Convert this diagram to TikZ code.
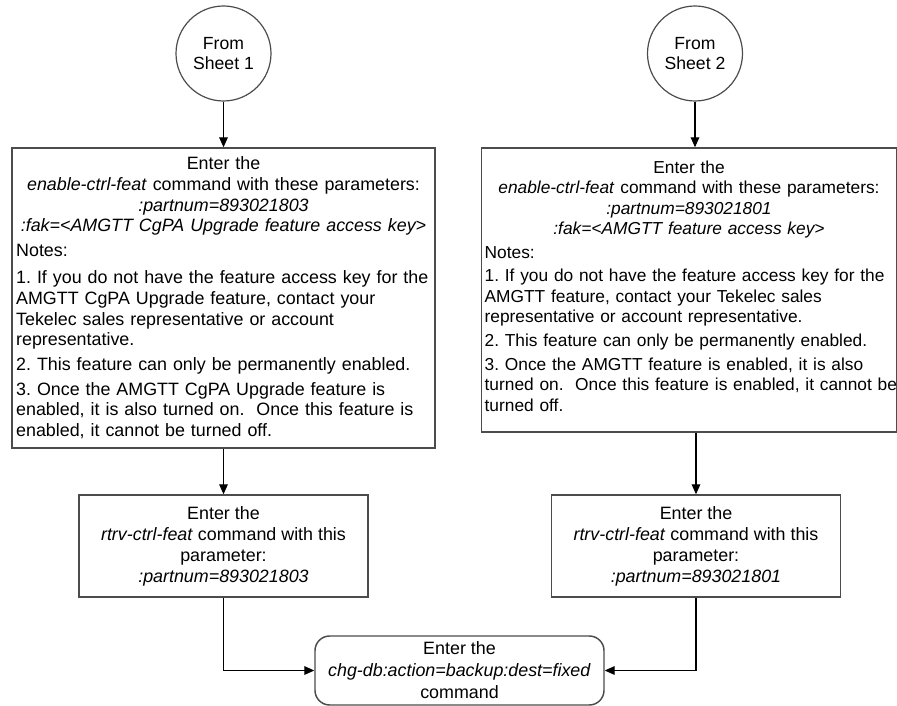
\documentclass[tikz,border=0pt]{standalone}
\usepackage{fontspec}
\setmainfont{Liberation Sans}
\usetikzlibrary{arrows.meta}
\usetikzlibrary{positioning,calc}
\frenchspacing

\begin{document}
\begin{tikzpicture}[x=0.75pt,y=-0.75pt,
    sheet/.style={circle,draw=black!70,line width=0.9pt,minimum size=71.25pt,
      inner sep=0pt,align=center,font=\fontsize{13.2}{15}\selectfont},
    notebox/.style={draw=black!70,line width=1.1pt,inner xsep=3pt,inner ysep=0pt,
      align=left,font=\fontsize{13.4}{15.5}\selectfont},
    cmdbox/.style={draw=black!70,line width=1.1pt,minimum width=216.75pt,
      minimum height=76.5pt,inner sep=0pt,align=center,
      font=\fontsize{13.4}{15.8}\selectfont},
    endbox/.style={cmdbox,rounded corners=11pt,minimum height=51.75pt,
      font=\fontsize{13.4}{16.5}\selectfont},
    flow/.style={-{Triangle[length=7.5pt,width=6.5pt]},line width=0.8pt}]
  \useasboundingbox (0,0) rectangle (897,706);

  % off-page connectors
  \node[sheet] (from1) at (223.5,53.5) {From\\Sheet 1};
  \node[sheet] (from2) at (695,53.5) {From\\Sheet 2};

  % enable the feature
  \node[notebox,text width=311pt,minimum height=225pt] (feat1) at (223.5,298) {%
    \setlength\parskip{3pt}\setlength\parindent{0pt}%
    {\centering Enter the\\
     \textit{enable-ctrl-feat} command with these parameters:\\
     \textit{:partnum=893021803}\\
     \textit{:fak=<AMGTT CgPA Upgrade feature access key>}\par}
    Notes:\par\vspace{2pt}
    1. If you do not have the feature access key for the\\
    AMGTT CgPA Upgrade feature, contact your\\
    Tekelec sales representative or account\\
    representative.\par
    2. This feature can only be permanently enabled.\par
    3. Once the AMGTT CgPA Upgrade feature is\\
    enabled, it is also turned on.\ \ Once this feature is\\
    enabled, it cannot be turned off.};
  \node[notebox,inner xsep=2.25pt,text width=306.5pt,minimum height=213pt,
    font=\fontsize{13}{15.3}\selectfont] (feat2) at (689,290) {%
    \setlength\parskip{2.5pt}\setlength\parindent{0pt}%
    {\centering Enter the\\
     \textit{enable-ctrl-feat} command with these parameters:\\
     \textit{:partnum=893021801}\\
     \textit{:fak=<AMGTT feature access key>}\par}
    Notes:\par
    1. If you do not have the feature access key for the\\
    AMGTT feature, contact your Tekelec sales\\
    representative or account representative.\par
    2. This feature can only be permanently enabled.\par
    3. Once the AMGTT feature is enabled, it is also\\
    \makebox[\linewidth][l]{turned on.\ \ Once this feature is enabled, it cannot be}\\
    turned off.\par\vspace{6pt}\hrule height 0pt};

  % verify
  \node[cmdbox] (ret1) at (223.5,546) {Enter the\\
    \textit{rtrv-ctrl-feat} command with this\\ parameter:\\
    \textit{:partnum=893021803}};
  \node[cmdbox] (ret2) at (696,546) {Enter the\\
    \textit{rtrv-ctrl-feat} command with this\\ parameter:\\
    \textit{:partnum=893021801}};

  % back up the database
  \node[endbox] (backup) at (459.5,670.5) {Enter the\\
    \textit{chg-db:action=backup:dest=fixed}\\ command};

  \draw[flow] (from1) -- (feat1);
  \draw[flow] (from2) -- (from2 |- feat2.north);
  \draw[flow] (feat1) -- (ret1);
  \draw[flow] (ret2 |- feat2.south) -- (ret2);
  \draw[flow] (ret1) |- (backup);
  \draw[flow] (ret2) |- (backup);
\end{tikzpicture}
\end{document}
